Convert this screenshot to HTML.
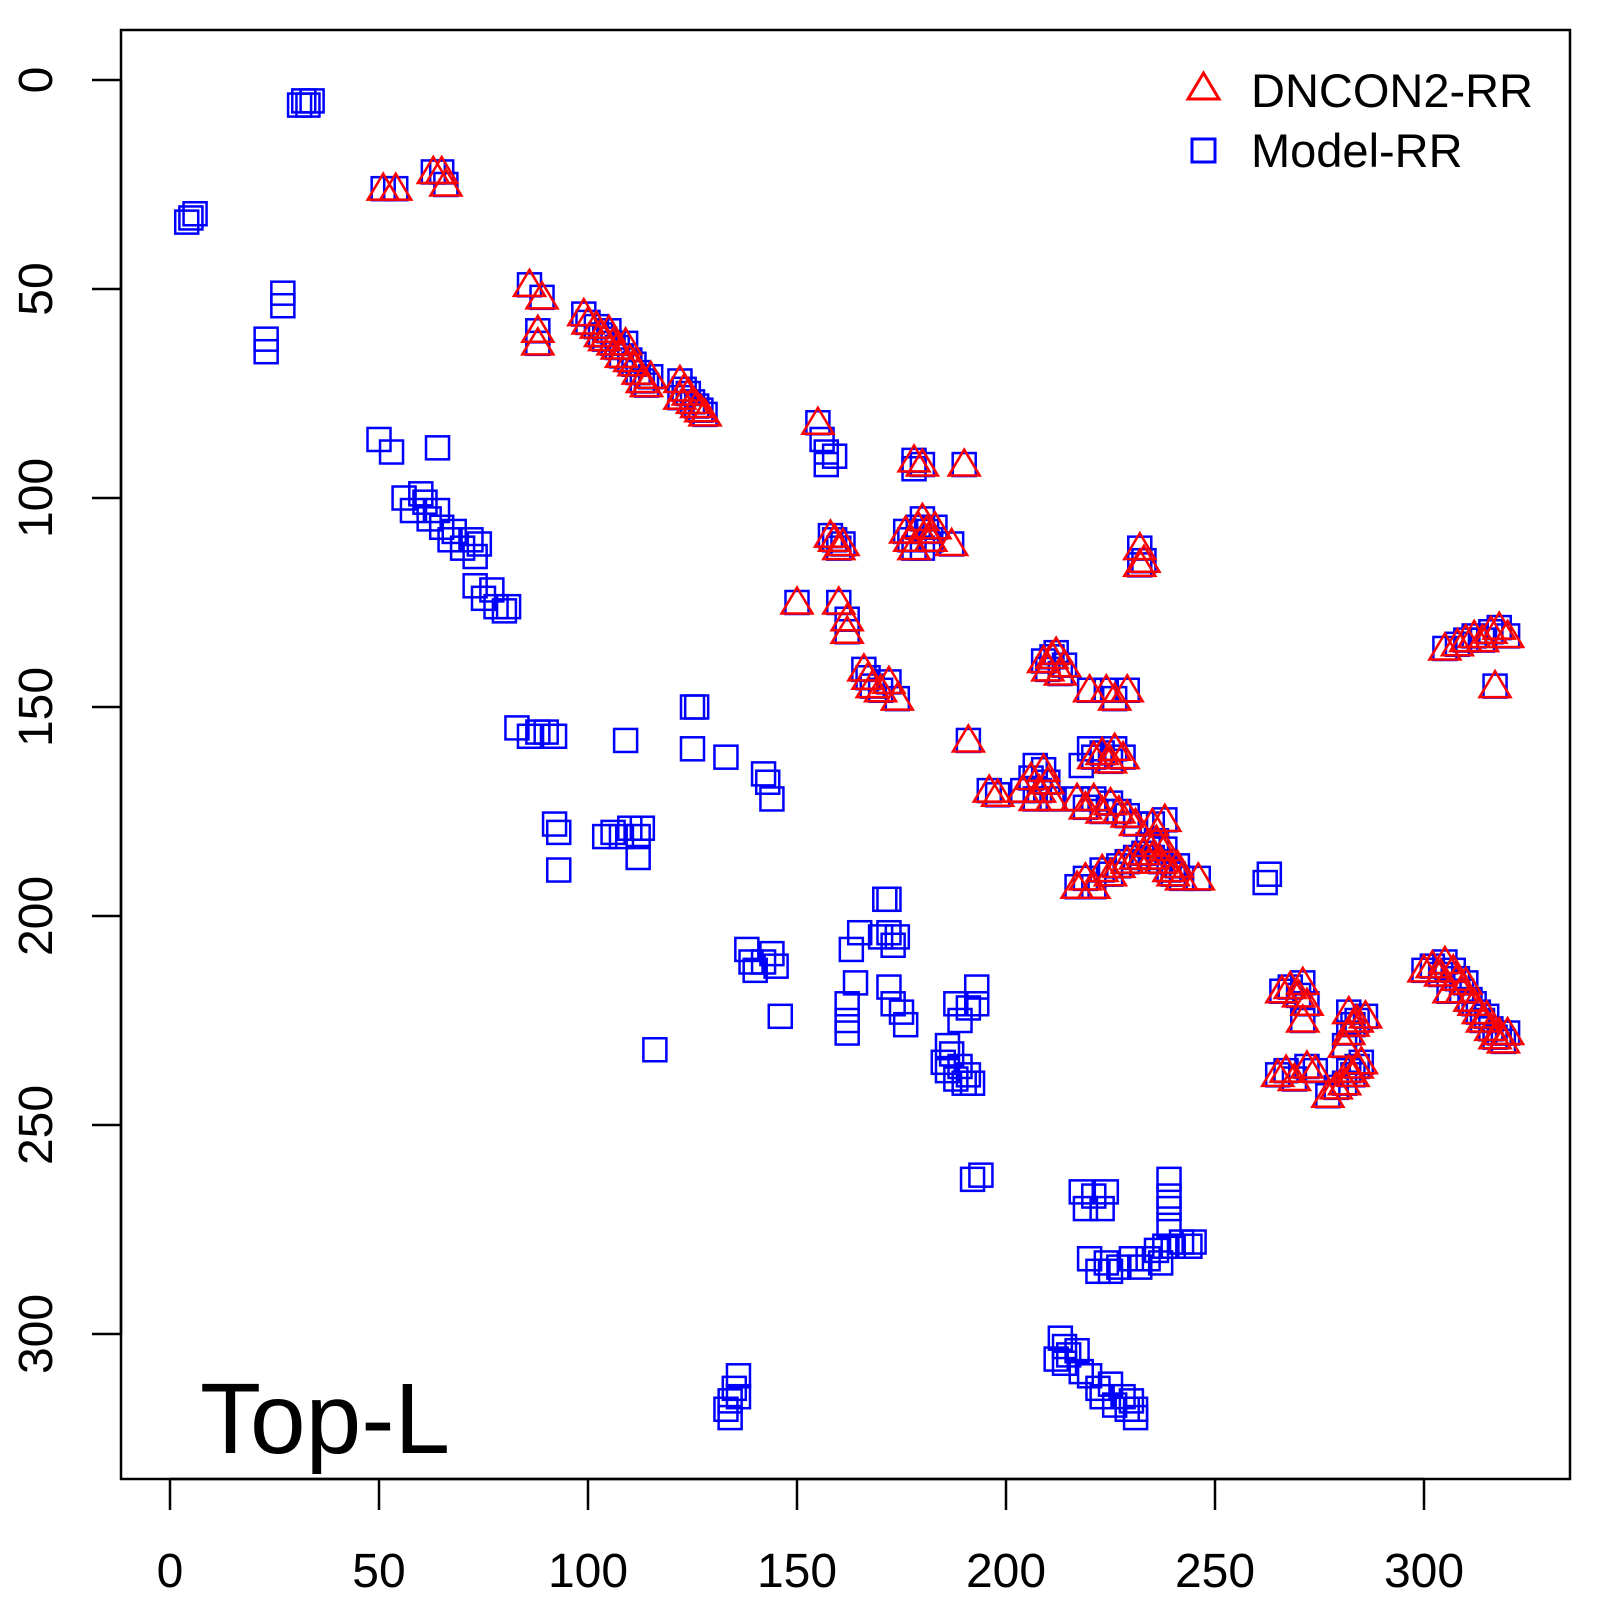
<!DOCTYPE html>
<html><head><meta charset="utf-8"><style>body{margin:0;background:#fff}svg{display:block}</style></head>
<body>
<svg id="s" width="1600" height="1600" xmlns="http://www.w3.org/2000/svg" font-family="Liberation Sans, sans-serif">
<rect width="1600" height="1600" fill="#fff"/>
<g id="pts"></g>
<rect x="121" y="30" width="1449" height="1449" fill="none" stroke="#000" stroke-width="2.5"/>
<g stroke="#000" stroke-width="2.5">
<line x1="170" y1="1479" x2="1424" y2="1479"/>
<line x1="170" y1="1479" x2="170" y2="1510"/><line x1="379" y1="1479" x2="379" y2="1510"/><line x1="588" y1="1479" x2="588" y2="1510"/><line x1="797" y1="1479" x2="797" y2="1510"/><line x1="1006" y1="1479" x2="1006" y2="1510"/><line x1="1215" y1="1479" x2="1215" y2="1510"/><line x1="1424" y1="1479" x2="1424" y2="1510"/>
<line x1="121" y1="80" x2="121" y2="1334"/>
<line x1="121" y1="80" x2="92" y2="80"/><line x1="121" y1="289" x2="92" y2="289"/><line x1="121" y1="498" x2="92" y2="498"/><line x1="121" y1="707" x2="92" y2="707"/><line x1="121" y1="916" x2="92" y2="916"/><line x1="121" y1="1125" x2="92" y2="1125"/><line x1="121" y1="1334" x2="92" y2="1334"/>
</g>
<g font-size="48" text-anchor="middle" fill="#000">
<text x="170" y="1587">0</text><text x="379" y="1587">50</text><text x="588" y="1587">100</text><text x="797" y="1587">150</text><text x="1006" y="1587">200</text><text x="1215" y="1587">250</text><text x="1424" y="1587">300</text>
<text transform="translate(52,80) rotate(-90)">0</text>
<text transform="translate(52,289) rotate(-90)">50</text>
<text transform="translate(52,498) rotate(-90)">100</text>
<text transform="translate(52,707) rotate(-90)">150</text>
<text transform="translate(52,916) rotate(-90)">200</text>
<text transform="translate(52,1125) rotate(-90)">250</text>
<text transform="translate(52,1334) rotate(-90)">300</text>
</g>
<polygon points="1203.5,73 1219,99 1188,99" fill="none" stroke="#f00" stroke-width="3"/>
<rect x="1192" y="139" width="23" height="23" fill="none" stroke="#00f" stroke-width="3"/>
<text x="1251" y="107" font-size="47">DNCON2-RR</text>
<text x="1251" y="167" font-size="47">Model-RR</text>
<text x="200" y="1453" font-size="100">Top-L</text>
</svg>
<script>
var B=[[32,5],[33,6],[34,5],[31,6],[5,33],[6,32],[4,34],[27,51],[27,54],[23,62],[23,65],[50,86],[53,89],[64,88],
[56,100],[58,103],[60,99],[61,101],[62,105],[64,103],[65,107],[67,110],[68,108],[70,112],[72,110],[73,114],[74,111],[73,121],[75,124],[77,122],[78,126],[80,127],[81,126],
[83,155],[86,157],[88,156],[90,156],[92,157],[92,178],[93,180],[93,189],[109,158],
[104,181],[106,180],[108,181],[110,179],[112,181],[113,179],[112,186],[125,150],[126,150],[125,160],[133,162],[142,166],[143,168],[144,172],[116,232],
[138,208],[139,211],[140,213],[142,211],[144,209],[145,212],[146,224],[163,208],[165,204],[164,216],[162,221],[162,225],[162,228],
[171,196],[172,196],[170,205],[172,204],[173,207],[174,205],[172,217],[173,221],[175,223],[176,226],
[188,221],[189,225],[191,222],[193,217],[193,221],[185,235],[186,237],[187,233],[188,239],[189,236],[190,240],[191,238],[192,240],[186,231],
[192,263],[194,262],[218,266],[219,270],[221,267],[223,270],[224,266],
[220,282],[222,285],[224,283],[225,285],[227,284],[230,282],[232,284],[234,282],[236,280],[237,283],[238,279],[240,279],[242,278],[244,279],[245,278],
[239,263],[239,267],[239,270],[239,274],
[213,301],[214,303],[212,306],[214,307],[215,305],[217,304],[218,309],[220,310],[222,313],[223,315],[225,312],[226,317],[228,315],[230,316],[231,320],[231,318],[229,318],
[133,318],[134,316],[135,313],[136,310],[136,315],[134,320],[262,192],[263,190],
[156,86],[157,89],[157,92],[159,90],[178,93],[180,112],[207,164],[218,164],[220,160]];
var R=[[51,26],[54,26],[63,22],[65,22],[66,25],[86,49],[89,52],[88,60],[88,63],
[99,56],[100,58],[102,59],[103,61],[104,62],[105,60],[106,63],[107,64],[108,66],[109,63],[110,67],[111,68],[112,70],[113,72],[114,73],[115,71],[122,72],[123,74],[124,75],[125,77],[126,78],[127,79],[128,80],[122,76],
[155,82],[158,109],[159,110],[160,112],[161,111],[150,125],[160,125],[162,129],[162,132],
[166,141],[167,143],[168,145],[170,146],[172,144],[174,148],[178,91],[180,92],[190,92],
[176,108],[177,110],[178,112],[179,107],[180,105],[181,108],[182,110],[183,107],[187,111],[232,112],[233,115],[232,116],[191,158],
[196,170],[198,171],[204,170],[206,167],[207,172],[208,170],[209,165],[210,168],[211,172],
[209,139],[210,141],[211,138],[212,137],[213,142],[214,140],[220,146],[224,146],[226,148],[229,146],
[221,162],[223,161],[225,163],[226,160],[228,162],[217,172],[219,174],[221,172],[223,175],[225,173],[227,175],[229,176],[231,178],
[217,193],[219,191],[221,193],[223,189],[225,190],[227,188],[229,187],[231,186],[233,185],[234,183],[235,186],[236,182],[237,187],[238,184],[239,189],[240,190],[241,188],[242,191],[246,191],[235,178],[238,177],
[305,136],[308,135],[310,134],[312,133],[314,134],[316,132],[318,131],[320,133],[317,145],
[265,238],[267,237],[269,239],[272,236],[274,237],[266,218],[268,217],[270,219],[271,216],[272,221],[271,225],
[277,243],[279,241],[281,240],[282,237],[283,238],[284,236],[285,235],[281,231],[282,228],[283,226],[284,225],[286,224],[282,223],
[300,213],[302,212],[304,214],[305,211],[307,213],[308,215],[309,218],[310,216],[311,220],[312,221],[313,223],[314,225],[315,224],[316,227],[317,229],[318,228],[319,230],[320,228],[306,218]];
var k=4.18,h='';
function X(v){return 170+v*k}function Y(v){return 80+v*k}
B.concat(R).forEach(function(p){h+='<rect x="'+(X(p[0])-11.5)+'" y="'+(Y(p[1])-11.5)+'" width="23" height="23" fill="none" stroke="#00f" stroke-width="2.5"/>';});
R.forEach(function(p){var x=X(p[0]),y=Y(p[1]);h+='<polygon points="'+x+','+(y-15)+' '+(x+15.5)+','+(y+11)+' '+(x-15.5)+','+(y+11)+'" fill="none" stroke="#f00" stroke-width="2.5"/>';});
document.getElementById('pts').innerHTML=h;
</script>
</body></html>
